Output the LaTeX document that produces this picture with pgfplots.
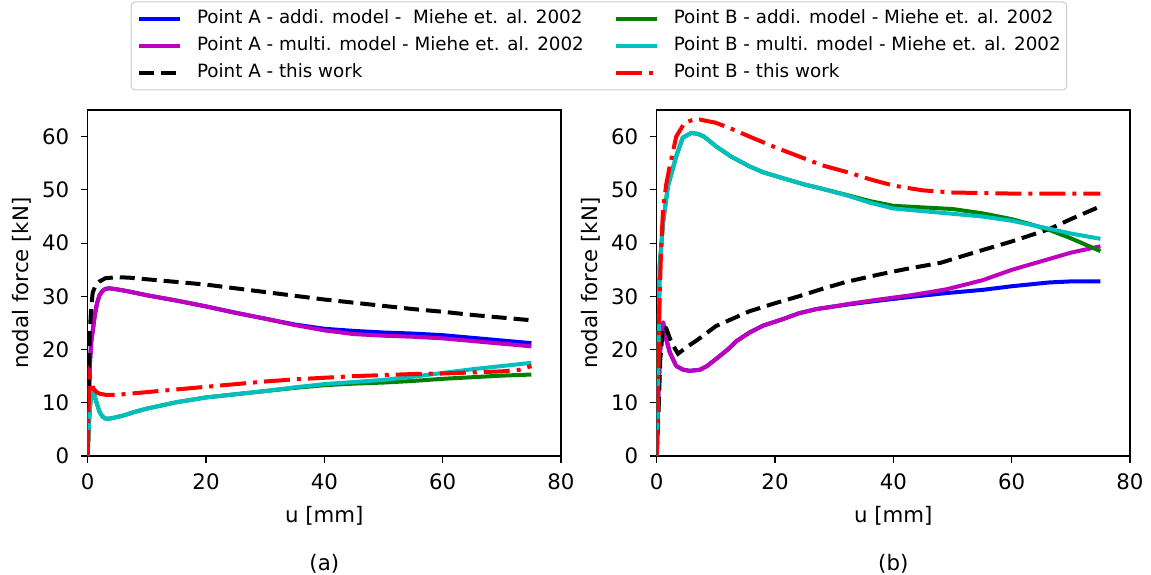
\documentclass[border=0pt]{standalone}
\usepackage{fontspec}
\setmainfont{DejaVu Sans}
\usepackage{pgfplots}
\pgfplotsset{compat=1.18}

\definecolor{mb}{rgb}{0,0,1}
\definecolor{mg}{rgb}{0,0.5,0}
\definecolor{mm}{rgb}{0.75,0,0.75}
\definecolor{mc}{rgb}{0,0.75,0.75}
\definecolor{mr}{rgb}{1,0,0}

\pgfplotsset{
  panel/.style={
    scale only axis, width=473.3pt, height=346pt,
    xmin=0, xmax=80, ymin=0, ymax=65,
    xtick={0,20,...,80}, ytick={0,10,...,60},
    tick align=outside, tick pos=left,
    major tick length=7pt,
    every tick/.style={black, line width=1.1pt},
    axis line style={black, line width=1.1pt},
    tick label style={font=\fontsize{21.3}{25}\selectfont},
    xticklabel style={yshift=-7pt},
    yticklabel style={xshift=-8pt},
    label style={font=\fontsize{21.3}{25}\selectfont},
    /pgf/number format/assume math mode=true,
    xlabel={u [mm]}, ylabel={nodal force [kN]},
    xlabel style={at={(axis description cs:0.5,-0.173)}, anchor=center},
    ylabel style={at={(axis description cs:-0.139,0.5)}, anchor=center},
  },
  lA/.style={mb, line width=4pt, line join=round},
  lAm/.style={mm, line width=4pt, line join=round},
  lAw/.style={black, line width=4pt, dash pattern=on 15pt off 7pt},
  lB/.style={mg, line width=4pt, line join=round},
  lBm/.style={mc, line width=4pt, line join=round},
  lBw/.style={mr, line width=4pt, dash pattern=on 26pt off 7pt on 4pt off 7pt},
}

\begin{document}
\begin{tikzpicture}
\useasboundingbox (0,0) rectangle (1151pt,574pt);

% ---------- (a)
\begin{axis}[panel, at={(87.7pt,118pt)}, anchor=south west,
  legend columns=2, legend cell align=left,
  legend image code/.code={\draw[#1] (0pt,0pt) -- (41pt,0pt);},
  legend style={at={(axis description cs:1.080,1.185)}, anchor=center,
    draw=black!20, line width=1pt, rounded corners=4pt, fill=white,
    font=\fontsize{18.3}{21}\selectfont,
    inner xsep=6pt, inner ysep=8.4pt, row sep=9.8pt,
    nodes={inner sep=0pt, text height=13.5pt, text depth=3.7pt, anchor=west},
    /tikz/every odd column/.append style={column sep=15pt},
    /tikz/every even column/.append style={column sep=30pt}},
]
\addlegendimage{lA}
\addlegendimage{lB}
\addlegendimage{lAm}
\addlegendimage{lBm}
\addlegendimage{lAw}
\addlegendimage{lBw}

\addplot[lA, forget plot] coordinates {(0,0) (0.15,8) (0.35,17) (0.6,21.5) (0.85,23.5) (1.2,26.5) (1.6,28.8) (2.0,30.2) (2.5,31.0) (3.0,31.4) (3.7,31.5) (5,31.3) (7,30.9) (10,30.2) (15,29.2) (20,28.1) (25,26.9) (30,25.8) (35,24.7) (40,23.9) (45,23.5) (50,23.2) (55,23.0) (60,22.7) (65,22.2) (70,21.7) (75,21.2)};
\addplot[lAm, forget plot] coordinates {(0,0) (0.15,8) (0.35,17) (0.6,21.5) (0.85,23.5) (1.2,26.5) (1.6,28.8) (2.0,30.2) (2.5,31.0) (3.0,31.4) (3.7,31.5) (5,31.3) (7,30.9) (10,30.2) (15,29.2) (20,28.1) (25,26.9) (30,25.8) (35,24.6) (40,23.6) (45,22.9) (50,22.6) (55,22.4) (60,22.1) (65,21.6) (70,21.1) (75,20.6)};
\addplot[lAw, forget plot] coordinates {(0,0) (0.15,9) (0.34,23) (0.6,28) (0.85,30.7) (1.3,32) (2,32.8) (3,33.4) (5,33.6) (7,33.5) (10,33.2) (15,32.7) (20,32.2) (25,31.5) (30,30.8) (35,30.1) (40,29.4) (45,28.8) (50,28.2) (55,27.6) (60,27.1) (65,26.5) (70,26) (75,25.5)};
\addplot[lB, forget plot] coordinates {(0,0) (0.2,6) (0.45,10) (0.8,12.1) (1.1,11.6) (1.5,10) (2,8.3) (2.5,7.4) (3,7.05) (3.5,7.0) (4.5,7.2) (6,7.6) (8,8.3) (10,8.9) (15,10.1) (20,11.0) (25,11.6) (30,12.2) (35,12.8) (40,13.3) (45,13.6) (50,13.8) (55,14.1) (60,14.5) (65,14.8) (70,15.1) (75,15.3)};
\addplot[lBm, forget plot] coordinates {(0,0) (0.2,6) (0.45,10) (0.8,12.1) (1.1,11.6) (1.5,10) (2,8.3) (2.5,7.4) (3,7.05) (3.5,7.0) (4.5,7.2) (6,7.6) (8,8.3) (10,8.9) (15,10.1) (20,11.0) (25,11.6) (30,12.2) (35,12.9) (40,13.5) (45,13.9) (50,14.3) (55,14.9) (60,15.6) (65,16.3) (70,16.9) (75,17.5)};
\addplot[lBw, forget plot] coordinates {(0,0) (0.15,9) (0.34,14.8) (0.6,13.8) (1,12.6) (1.5,12.0) (2,11.7) (3,11.5) (5,11.5) (7,11.7) (10,12) (15,12.5) (20,13) (25,13.5) (30,14) (35,14.4) (40,14.7) (45,15) (50,15.2) (55,15.4) (60,15.5) (65,15.7) (70,15.9) (73,16.2) (75,16.9)};

\legend{Point A - addi. model -~ Miehe et. al. 2002,
        Point B - addi. model - Miehe et. al. 2002,
        Point A - multi. model - Miehe et. al. 2002,
        Point B - multi. model - Miehe et. al. 2002,
        Point A - this work,
        Point B - this work}
\end{axis}

% ---------- (b)
\begin{axis}[panel, at={(656.7pt,118pt)}, anchor=south west]
\addplot[lA] coordinates {(0,0) (0.3,12) (0.6,20) (1.07,25.1) (1.6,22) (2.2,19.5) (3.3,16.9) (4.5,16.2) (5.6,16) (7.3,16.2) (8.5,16.9) (10,18.2) (12,20) (13.5,21.6) (15.7,23.2) (18,24.5) (21.3,25.7) (24,26.8) (27,27.6) (30,28.1) (32.6,28.5) (37.6,29.2) (43,29.9) (48.9,30.6) (55,31.2) (60.1,31.9) (66.3,32.6) (70,32.8) (75,32.8)};
\addplot[lAm] coordinates {(0,0) (0.3,12) (0.6,20) (1.07,25.1) (1.6,22) (2.2,19.5) (3.3,16.9) (4.5,16.2) (5.6,16) (7.3,16.2) (8.5,16.9) (10,18.2) (12,20) (13.5,21.6) (15.7,23.2) (18,24.5) (21.3,25.7) (24,26.8) (27,27.6) (30,28.1) (32.6,28.6) (37.6,29.4) (43,30.2) (48.9,31.3) (55,33) (60.1,35) (66.3,37) (70,38.2) (75,39.4)};
\addplot[lAw] coordinates {(0,0) (0.3,8) (0.6,18) (1.07,24.4) (1.6,24) (2.5,21.3) (3.6,19.2) (5,20.4) (7,21.9) (10,24.4) (15.7,27.2) (20,28.7) (24,30) (28,31.4) (32,32.7) (37.6,34.1) (42,35.1) (48,36.3) (54.5,38.5) (60,40.3) (66.3,42.6) (70,44.5) (75,46.9)};
\addplot[lB] coordinates {(0,0) (0.2,12) (0.5,35.7) (1.07,43.8) (1.9,50.7) (3.3,56.3) (4.4,59.8) (5.85,60.7) (7,60.5) (8,60) (10,58.2) (12.5,56.3) (15.7,54.4) (18,53.3) (21.3,52.2) (25,51) (28,50.2) (32.6,48.9) (36,47.9) (40,47) (45,46.7) (50,46.4) (55,45.6) (60,44.5) (63,43.6) (66.3,42.5) (70,40.9) (75,38.5)};
\addplot[lBm] coordinates {(0,0) (0.2,12) (0.5,35.7) (1.07,43.8) (1.9,50.7) (3.3,56.3) (4.4,59.8) (5.85,60.7) (7,60.5) (8,60) (10,58.2) (12.5,56.3) (15.7,54.4) (18,53.3) (21.3,52.2) (25,51) (28,50.2) (32.6,48.8) (36,47.6) (40,46.5) (45,46) (50,45.5) (55,45) (60,44.2) (63,43.5) (66.3,42.7) (70,41.8) (75,40.8)};
\addplot[lBw] coordinates {(0,0) (0.25,15) (0.5,30) (0.75,39) (1.07,46.3) (1.6,51) (2.2,54.4) (3.3,60) (4.7,62.6) (6,63.1) (7.3,63.2) (10,62.6) (13,61.3) (15.7,60) (20,58) (24,56.3) (28,54.6) (32.6,53.2) (36,52) (40,50.8) (45,49.9) (50,49.5) (55,49.4) (60,49.3) (65,49.3) (70,49.3) (75,49.3)};
\end{axis}

\node[font=\fontsize{21.3}{25}\selectfont] at (324.3pt,10pt) {(a)};
\node[font=\fontsize{21.3}{25}\selectfont] at (893.3pt,10pt) {(b)};
\end{tikzpicture}
\end{document}
